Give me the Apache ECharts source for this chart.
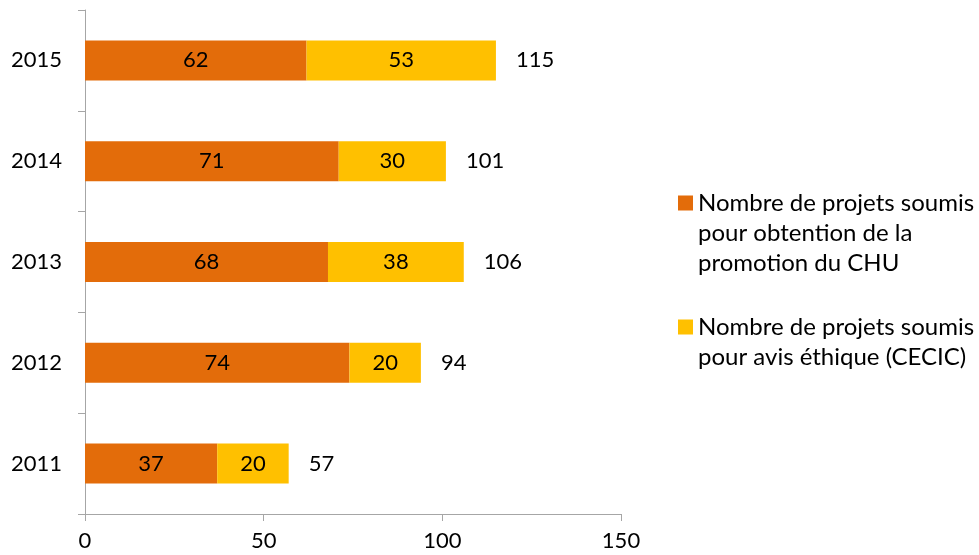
<!DOCTYPE html>
<html>
<head>
<meta charset="utf-8">
<script src="https://cdn.jsdelivr.net/npm/echarts@6/dist/echarts.min.js"></script>
<style>
  html, body { margin: 0; padding: 0; background: #fff; }
  #chart { width: 979px; height: 555px; }
</style>
</head>
<body>
<div id="chart"></div>
<script>
// Projets soumis par année
const years = ['2011', '2012', '2013', '2014', '2015'];
const promotionCHU = [37, 74, 68, 71, 62];
const avisEthique = [20, 20, 38, 30, 53];
const xTicks = { min: 0, max: 150, interval: 50 };

const nameA = 'Nombre de projets soumis\npour obtention de la\npromotion du CHU';
const nameB = 'Nombre de projets soumis\npour avis éthique (CECIC)';

const totals = years.map((_, i) => promotionCHU[i] + avisEthique[i]);

const FONT = 'Lato, "Liberation Sans", sans-serif';
const AXIS = '#a6a6a6';

// legend squares sit beside the first text line of each entry
const iconA = 'path://M0,0H15V15H0Z M0,74.99H0.01V75H0Z';
const iconB = 'path://M0,15H15V30H0Z M0,0H0.01V0.01H0Z M0,74.99H0.01V75H0Z';

const chart = echarts.init(document.getElementById('chart'), null, { renderer: 'canvas' });
chart.setOption({
  animation: false,
  textStyle: { fontFamily: FONT },
  grid: { left: 85, right: 358, top: 10, bottom: 41, containLabel: false },
  legend: {
    orient: 'vertical',
    left: 678,
    top: 188,
    padding: 0,
    itemWidth: 15,
    itemHeight: 75,
    itemGap: 26.5,
    selectedMode: false,
    textStyle: { fontFamily: FONT, fontSize: 24, lineHeight: 30, color: '#000' },
    data: [
      { name: nameA, icon: iconA },
      { name: nameB, icon: iconB }
    ]
  },
  xAxis: {
    type: 'value',
    min: xTicks.min,
    max: xTicks.max,
    interval: xTicks.interval,
    axisLine: { show: true, lineStyle: { color: AXIS, width: 1 } },
    axisTick: { show: true, length: 7, lineStyle: { color: AXIS } },
    splitLine: { show: false },
    axisLabel: { color: '#000', fontSize: 22, fontFamily: FONT, margin: 16 }
  },
  yAxis: {
    type: 'category',
    data: years,
    axisLine: { show: true, lineStyle: { color: AXIS, width: 1 } },
    axisTick: { show: true, length: 7, lineStyle: { color: AXIS } },
    axisLabel: { color: '#000', fontSize: 22, fontFamily: FONT, margin: 23 }
  },
  series: [
    {
      name: nameA,
      type: 'bar',
      stack: 'total',
      barWidth: 40,
      itemStyle: { color: '#e36c0a' },
      label: { show: true, position: 'inside', color: '#000', fontSize: 22, fontFamily: FONT },
      data: promotionCHU
    },
    {
      name: nameB,
      type: 'bar',
      stack: 'total',
      barWidth: 40,
      itemStyle: { color: '#ffc000' },
      label: { show: true, position: 'inside', color: '#000', fontSize: 22, fontFamily: FONT },
      data: avisEthique
    },
    {
      name: 'Total',
      type: 'bar',
      barWidth: 40,
      barGap: '-100%',
      silent: true,
      z: 1,
      itemStyle: { color: 'rgba(0,0,0,0)' },
      label: { show: true, position: 'right', distance: 20, color: '#000', fontSize: 22, fontFamily: FONT },
      data: totals
    }
  ]
});
</script>
</body>
</html>
